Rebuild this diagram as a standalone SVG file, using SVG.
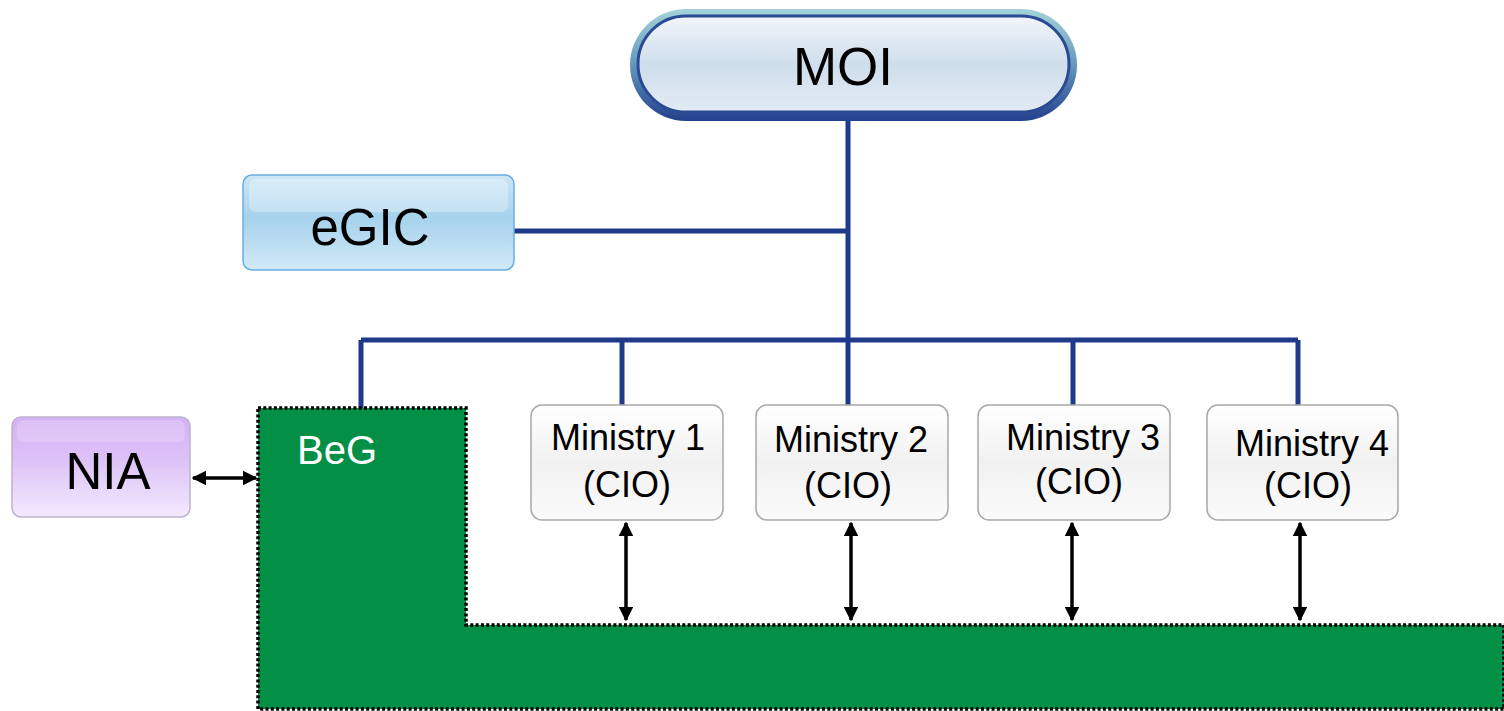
<svg xmlns="http://www.w3.org/2000/svg" width="1504" height="711" viewBox="0 0 1504 711">
<defs>
<linearGradient id="moiOuter" x1="0" y1="0" x2="0" y2="1">
<stop offset="0" stop-color="#a3d3d9"/><stop offset="0.45" stop-color="#6b9fc2"/><stop offset="1" stop-color="#22408c"/>
</linearGradient>
<linearGradient id="moiInner" x1="0" y1="0" x2="0" y2="1">
<stop offset="0" stop-color="#f2f6fb"/><stop offset="0.5" stop-color="#cfdeec"/><stop offset="1" stop-color="#e2ebf4"/>
</linearGradient>
<linearGradient id="egic" x1="0" y1="0" x2="0" y2="1">
<stop offset="0" stop-color="#cde6f5"/><stop offset="0.45" stop-color="#a6d2ec"/><stop offset="1" stop-color="#d2e9f7"/>
</linearGradient>
<linearGradient id="nia" x1="0" y1="0" x2="0" y2="1">
<stop offset="0" stop-color="#d4b0f5"/><stop offset="0.4" stop-color="#dcc0f7"/><stop offset="1" stop-color="#f3eafd"/>
</linearGradient>
<linearGradient id="min" x1="0" y1="0" x2="0" y2="1">
<stop offset="0" stop-color="#ffffff"/><stop offset="0.5" stop-color="#f1f1f1"/><stop offset="1" stop-color="#fbfbfb"/>
</linearGradient>
<marker id="ah" viewBox="0 0 10 10" refX="9" refY="5" markerWidth="4.2" markerHeight="4.2" orient="auto-start-reverse" markerUnits="strokeWidth">
<path d="M0,0 L10,5 L0,10 z" fill="#000"/>
</marker>
<style>
.t{font-family:"Liberation Sans",Arial,sans-serif;fill:#000;text-anchor:middle}
.bl{stroke:#1f3a8a;stroke-width:5;fill:none}
.ar{stroke:#000;stroke-width:3.5;fill:none;marker-start:url(#ah);marker-end:url(#ah)}
.mb{fill:url(#min);stroke:#a8a8a8;stroke-width:1.5}
</style>
</defs>

<g id="connectors">
<path class="bl" d="M848,120 V340"/>
<path class="bl" d="M514,231 H848"/>
<path class="bl" d="M361,340 H1298"/>
<path class="bl" d="M361,340 V408"/>
<path class="bl" d="M622,340 V405"/>
<path class="bl" d="M848,340 V405"/>
<path class="bl" d="M1073,340 V405"/>
<path class="bl" d="M1298,340 V405"/>
<line class="ar" x1="193" y1="478" x2="256" y2="478"/>
<line class="ar" x1="626" y1="523" x2="626" y2="620"/>
<line class="ar" x1="851" y1="523" x2="851" y2="620"/>
<line class="ar" x1="1072" y1="523" x2="1072" y2="620"/>
<line class="ar" x1="1300" y1="523" x2="1300" y2="620"/>
</g>

<g id="beg">
<path d="M258,408 H466 V625 H1504 V709 H258 Z" fill="#038f45" stroke="#000" stroke-width="3.5" stroke-dasharray="3 2.3"/>
<text x="337" y="464" font-family="Liberation Sans,Arial,sans-serif" font-size="40" fill="#fff" text-anchor="middle">BeG</text>
</g>

<g id="moi">
<rect x="630" y="9" width="447" height="112" rx="56" fill="url(#moiOuter)"/>
<rect x="638" y="16" width="431" height="96" rx="48" fill="url(#moiInner)" stroke="#2a4a94" stroke-width="3"/>
<text class="t" x="843" y="85" font-size="53">MOI</text>
</g>

<g id="egic">
<rect x="243" y="175" width="271" height="95" rx="9" fill="url(#egic)" stroke="#6aaee0" stroke-width="1.5"/>
<rect x="249" y="179" width="259" height="33" rx="7" fill="#ffffff" opacity="0.3"/>
<text class="t" x="370" y="245" font-size="51">eGIC</text>
</g>

<g id="nia">
<rect x="12" y="417" width="178" height="100" rx="9" fill="url(#nia)" stroke="#bfb2cc" stroke-width="1.5"/>
<rect x="17" y="420" width="168" height="22" rx="7" fill="#ffffff" opacity="0.2"/>
<text class="t" x="108" y="489" font-size="51">NIA</text>
</g>

<g id="ministry1">
<rect class="mb" x="531" y="405" width="192" height="115" rx="11"/>
<text class="t" x="628" y="450" font-size="36">Ministry 1</text>
<text class="t" x="627" y="497" font-size="36">(CIO)</text>
</g>
<g id="ministry2">
<rect class="mb" x="756" y="405" width="192" height="115" rx="11"/>
<text class="t" x="851" y="452" font-size="36">Ministry 2</text>
<text class="t" x="848" y="498" font-size="36">(CIO)</text>
</g>
<g id="ministry3">
<rect class="mb" x="978" y="405" width="192" height="115" rx="11"/>
<text class="t" x="1083" y="450" font-size="36">Ministry 3</text>
<text class="t" x="1079" y="494" font-size="36">(CIO)</text>
</g>
<g id="ministry4">
<rect class="mb" x="1207" y="405" width="191" height="115" rx="11"/>
<text class="t" x="1312" y="456" font-size="36">Ministry 4</text>
<text class="t" x="1308" y="498" font-size="36">(CIO)</text>
</g>
</svg>
